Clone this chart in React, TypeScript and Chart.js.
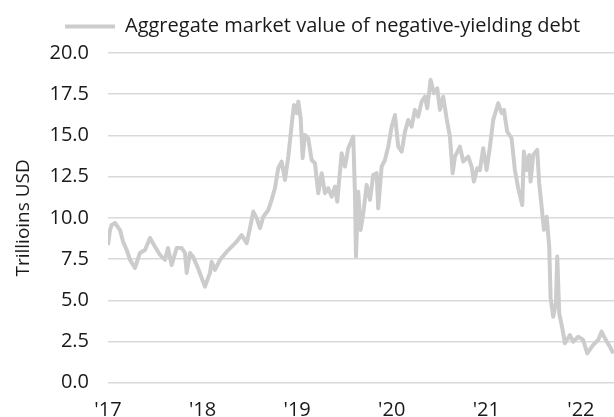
import React, { useEffect, useRef } from "react";
import { Chart, registerables } from "chart.js";

Chart.register(...registerables);

// Decimal years (2017.0 = start of 2017)
const dates: number[] = [
  2017.0, 2017.021, 2017.039, 2017.074, 2017.127, 2017.159, 2017.198, 2017.233, 2017.285, 2017.338,
  2017.391, 2017.444, 2017.497, 2017.55, 2017.603, 2017.634, 2017.673, 2017.726, 2017.779, 2017.814,
  2017.832, 2017.867, 2017.899, 2017.951, 2018.025, 2018.078, 2018.096, 2018.131, 2018.184, 2018.255,
  2018.308, 2018.36, 2018.413, 2018.466, 2018.501, 2018.536, 2018.572, 2018.607, 2018.642, 2018.695,
  2018.73, 2018.765, 2018.8, 2018.836, 2018.871, 2018.906, 2018.942, 2018.966, 2018.995, 2019.012,
  2019.037, 2019.058, 2019.082, 2019.117, 2019.153, 2019.188, 2019.223, 2019.259, 2019.294, 2019.329,
  2019.365, 2019.4, 2019.424, 2019.47, 2019.505, 2019.54, 2019.593, 2019.611, 2019.622, 2019.646,
  2019.671, 2019.699, 2019.735, 2019.77, 2019.804, 2019.84, 2019.857, 2019.893, 2019.928, 2019.963,
  2019.999, 2020.034, 2020.069, 2020.105, 2020.14, 2020.174, 2020.21, 2020.245, 2020.28, 2020.316,
  2020.351, 2020.375, 2020.411, 2020.446, 2020.481, 2020.51, 2020.544, 2020.58, 2020.615, 2020.644,
  2020.668, 2020.721, 2020.756, 2020.809, 2020.845, 2020.869, 2020.904, 2020.932, 2020.967, 2021.003,
  2021.038, 2021.073, 2021.126, 2021.162, 2021.186, 2021.221, 2021.267, 2021.302, 2021.337, 2021.38,
  2021.397, 2021.426, 2021.453, 2021.468, 2021.496, 2021.538, 2021.559, 2021.585, 2021.609, 2021.638,
  2021.665, 2021.68, 2021.707, 2021.736, 2021.75, 2021.771, 2021.807, 2021.831, 2021.884, 2021.919,
  2021.972, 2022.024, 2022.067, 2022.13, 2022.183, 2022.219, 2022.254, 2022.307, 2022.342,
];

// Trillions USD
const values: number[] = [
  8.36, 9.26, 9.57, 9.69, 9.26, 8.56, 8.05, 7.45, 6.96, 7.87,
  8.05, 8.78, 8.25, 7.75, 7.45, 8.17, 7.14, 8.17, 8.17, 7.87,
  6.66, 7.87, 7.65, 6.96, 5.83, 6.66, 7.34, 6.84, 7.45, 7.95,
  8.25, 8.56, 8.96, 8.46, 9.37, 10.38, 9.98, 9.37, 10.07, 10.48,
  11.09, 11.8, 13.01, 13.41, 12.3, 13.71, 15.64, 16.85, 16.35, 17.05,
  16.04, 13.62, 15.03, 14.83, 13.51, 13.31, 11.49, 12.71, 11.49, 11.8,
  11.29, 11.9, 10.98, 13.92, 13.11, 14.22, 14.93, 11.49, 7.65, 11.59,
  9.27, 10.28, 12.0, 11.09, 12.6, 12.71, 10.58, 13.11, 13.51, 14.32,
  15.53, 16.24, 14.32, 14.02, 15.23, 15.94, 15.53, 16.55, 16.14, 17.05,
  17.35, 16.65, 18.37, 17.56, 17.86, 16.55, 17.35, 16.04, 14.93, 12.71,
  13.71, 14.32, 13.41, 13.71, 13.11, 12.2, 13.01, 12.9, 14.22, 12.9,
  14.32, 15.94, 16.95, 16.35, 16.55, 15.23, 14.83, 12.9, 11.8, 10.78,
  14.02, 12.9, 13.81, 12.2, 13.81, 14.12, 12.1, 10.68, 9.27, 10.07,
  8.25, 5.12, 4.0, 4.82, 7.65, 4.21, 3.2, 2.39, 2.89, 2.49,
  2.79, 2.59, 1.78, 2.29, 2.59, 3.1, 2.69, 2.18, 1.78,
];

const seriesLabel = "Aggregate market value of negative-yielding debt";
const yAxisTitle = "Trillioins USD";
const yTicks: number[] = [0, 2.5, 5, 7.5, 10, 12.5, 15, 17.5, 20];
const xTickYears: number[] = [2017, 2018, 2019, 2020, 2021, 2022];

const FONT = "'Open Sans', 'Noto Sans', sans-serif";
const LINE_COLOR = "#cccccc";
const TEXT_COLOR = "#1a1a1a";
const LEGEND_PADDING = 10;

// Nudge the legend box to where the reference places it
const legendPlacer = {
  id: "legendPlacer",
  afterLayout(chart: any) {
    const lg = chart.legend;
    if (!lg) return;
    const h = lg.height;
    lg.left = 65 - LEGEND_PADDING;
    lg.top = 6.5;
    lg.bottom = lg.top + h;
    if (typeof lg.adjustHitBoxes === "function") lg.adjustHitBoxes();
  },
};

export default function App() {
  const ref = useRef<HTMLCanvasElement | null>(null);

  useEffect(() => {
    if (!ref.current) return;
    const chart = new Chart(ref.current, {
      type: "line",
      data: {
        datasets: [
          {
            label: seriesLabel,
            data: dates.map((d, i) => ({ x: d, y: values[i] })),
            borderColor: LINE_COLOR,
            backgroundColor: LINE_COLOR,
            borderWidth: 4,
            pointRadius: 0,
            tension: 0,
            borderJoinStyle: "round",
          },
        ],
      },
      options: {
        responsive: false,
        animation: false,
        layout: { padding: { top: 13, left: 0, right: 0, bottom: 0 } },
        plugins: {
          legend: {
            display: true,
            position: "top",
            align: "start",
            labels: {
              color: TEXT_COLOR,
              font: { family: FONT, size: 20 },
              boxWidth: 50,
              boxHeight: 4,
              padding: LEGEND_PADDING,
              generateLabels: () => [
                {
                  text: seriesLabel,
                  fillStyle: LINE_COLOR,
                  strokeStyle: LINE_COLOR,
                  lineWidth: 0,
                  hidden: false,
                  datasetIndex: 0,
                  fontColor: TEXT_COLOR,
                },
              ],
            },
          },
          tooltip: { enabled: false },
        },
        scales: {
          x: {
            type: "linear",
            min: 2017,
            max: 2022.35,
            afterFit: (s: any) => {
              s.height = 34.3;
            },
            afterBuildTicks: (s: any) => {
              s.ticks = xTickYears.map((v) => ({ value: v }));
            },
            ticks: {
              color: TEXT_COLOR,
              font: { family: FONT, size: 20 },
              padding: 16,
              maxRotation: 0,
              autoSkip: false,
              callback: (v: any) => "'" + String(v).slice(2),
            },
            grid: { display: false, drawTicks: false },
            border: { display: false },
          },
          y: {
            min: 0,
            max: 20,
            afterFit: (s: any) => {
              s.width = 108;
            },
            afterBuildTicks: (s: any) => {
              s.ticks = yTicks.map((v) => ({ value: v }));
            },
            ticks: {
              color: TEXT_COLOR,
              font: { family: FONT, size: 20 },
              padding: 19,
              callback: (v: any) => Number(v).toFixed(1),
            },
            title: {
              display: true,
              text: yAxisTitle,
              color: TEXT_COLOR,
              font: { family: FONT, size: 19 },
              padding: { top: 12, bottom: 0 },
            },
            grid: { color: "#d9d9d9", lineWidth: 1.5, drawTicks: false },
            border: { display: false },
          },
        },
      },
      plugins: [legendPlacer],
    });
    return () => chart.destroy();
  }, []);

  return (
    <div style={{ position: "absolute", left: 0, top: 0, width: 614, height: 417, background: "#fff" }}>
      <canvas ref={ref} width={614} height={417} style={{ display: "block" }} />
    </div>
  );
}
